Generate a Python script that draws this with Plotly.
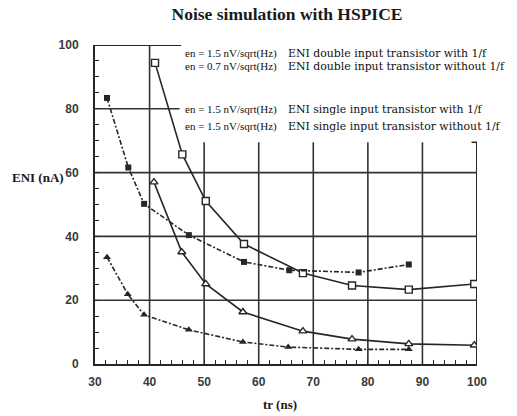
import plotly.graph_objects as go

# Data
tr_double_1f = [41.0, 46.0, 50.3, 57.3, 68.1, 77.1, 87.5, 99.5]
eni_double_1f = [94.4, 65.7, 51.1, 37.6, 28.5, 24.6, 23.3, 25.1]

tr_double = [32.2, 36.1, 39.0, 47.2, 57.3, 65.6, 78.3, 87.5]
eni_double = [83.4, 61.6, 50.2, 40.4, 32.0, 29.4, 28.7, 31.2]

tr_single_1f = [40.8, 45.9, 50.3, 57.1, 68.1, 77.1, 87.5, 99.5]
eni_single_1f = [57.0, 35.1, 25.1, 16.3, 10.3, 7.8, 6.3, 5.9]

tr_single = [32.2, 36.0, 39.0, 47.2, 57.1, 65.4, 78.3, 87.5]
eni_single = [33.5, 21.9, 15.4, 10.7, 6.9, 5.3, 4.6, 4.6]

legend_en = ["en = 1.5 nV/sqrt(Hz)", "en = 0.7 nV/sqrt(Hz)",
             "en = 1.5 nV/sqrt(Hz)", "en = 1.5 nV/sqrt(Hz)"]
legend_desc = ["ENI double input transistor with 1/f",
               "ENI double input transistor without 1/f",
               "ENI single input transistor with 1/f",
               "ENI single input transistor without 1/f"]

x_ticks = [30, 40, 50, 60, 70, 80, 90, 100]
y_ticks = [0, 20, 40, 60, 80, 100]

INK = "#262626"
fig = go.Figure()

fig.add_trace(go.Scatter(x=tr_double_1f, y=eni_double_1f, mode="lines+markers",
                         line=dict(color=INK, width=1.6),
                         marker=dict(symbol="square", size=7, color="white",
                                     line=dict(color=INK, width=1.4))))
fig.add_trace(go.Scatter(x=tr_double, y=eni_double, mode="lines+markers",
                         line=dict(color=INK, width=1.6, dash="5px,2px,2px,2px"),
                         marker=dict(symbol="square", size=6, color=INK)))
fig.add_trace(go.Scatter(x=tr_single_1f, y=eni_single_1f, mode="lines+markers",
                         line=dict(color=INK, width=1.6),
                         marker=dict(symbol="triangle-up", size=7, color="white",
                                     line=dict(color=INK, width=1.4))))
fig.add_trace(go.Scatter(x=tr_single, y=eni_single, mode="lines+markers",
                         line=dict(color=INK, width=1.6, dash="5px,2px,2px,2px"),
                         marker=dict(symbol="triangle-up", size=7, color=INK)))

# Grid lines and partial frame (legend block hides upper-right area)
GL = dict(color="#333333", width=1.6)
shapes = []
for yv in [20, 40, 60]:
    shapes.append(dict(type="line", xref="x", yref="y", x0=30, x1=100, y0=yv, y1=yv,
                       line=GL, layer="below"))
shapes.append(dict(type="line", xref="x", yref="y", x0=30, x1=45.5, y0=80, y1=80,
                   line=GL, layer="below"))
shapes.append(dict(type="line", xref="x", yref="y", x0=40, x1=40, y0=0, y1=100,
                   line=GL, layer="below"))
for xv in [50, 60, 70, 80, 90]:
    shapes.append(dict(type="line", xref="x", yref="y", x0=xv, x1=xv, y0=0, y1=69.5,
                       line=GL, layer="below"))
# top border (partial) and right border (partial)
shapes.append(dict(type="line", xref="x", yref="y", x0=30, x1=45.8, y0=100, y1=100,
                   line=dict(color=INK, width=2), layer="below"))
shapes.append(dict(type="line", xref="x", yref="y", x0=100, x1=100, y0=0, y1=69.5,
                   line=dict(color=INK, width=2), layer="below"))
shapes.append(dict(type="line", xref="x", yref="y", x0=99, x1=100, y0=69.5, y1=69.5,
                   line=dict(color=INK, width=1.5), layer="below"))

annotations = []
row_y = [53, 66, 109, 126]  # pixel rows
for i in range(4):
    py = (364 - row_y[i]) / 319.0
    annotations.append(dict(xref="paper", yref="paper", x=(183 - 95) / 382.0, y=py,
                            xanchor="left", yanchor="middle", showarrow=False,
                            text=legend_en[i],
                            font=dict(family="Liberation Serif", size=11, color="#111111")))
    annotations.append(dict(xref="paper", yref="paper", x=(286 - 95) / 382.0, y=py,
                            xanchor="left", yanchor="middle", showarrow=False,
                            text=legend_desc[i],
                            font=dict(family="DejaVu Serif", size=10.9, color="#111111")))

annotations.append(dict(xref="paper", yref="paper", x=(10 - 95) / 382.0,
                        y=(364 - 178) / 319.0, xanchor="left", yanchor="middle",
                        showarrow=False, text="<b>ENI (nA)</b>",
                        font=dict(family="Liberation Serif", size=13, color="#1a1a1a")))
annotations.append(dict(xref="paper", yref="paper", x=(280 - 95) / 382.0,
                        y=(364 - 404) / 319.0, xanchor="center", yanchor="middle",
                        showarrow=False, text="<b>tr (ns)</b>",
                        font=dict(family="Liberation Serif", size=13, color="#1a1a1a")))

fig.update_layout(
    width=517, height=416,
    margin=dict(l=95, r=40, t=45, b=52),
    paper_bgcolor="white", plot_bgcolor="white",
    showlegend=False,
    title=dict(text="<b>Noise simulation with HSPICE</b>", xref="container",
               x=287 / 517, xanchor="center", yref="container", y=1 - 14 / 416,
               yanchor="middle",
               font=dict(family="Liberation Serif", size=17.5, color="#1a1a1a")),
    shapes=shapes, annotations=annotations,
)
fig.update_xaxes(range=[30, 100], tickvals=x_ticks, showgrid=False, zeroline=False,
                 showline=True, linecolor=INK, linewidth=2, mirror=False,
                 ticks="inside", ticklen=5, tickcolor=INK, tickwidth=1.2,
                 minor=dict(dtick=2, ticks="inside", ticklen=4, tickcolor=INK,
                            tickwidth=1, showgrid=False),
                 ticklabelstandoff=6,
                 tickfont=dict(family="Liberation Sans", size=12, color="#3a3a3a",
                               weight="bold"))
fig.update_yaxes(range=[0, 100], tickvals=y_ticks, showgrid=False, zeroline=False,
                 showline=True, linecolor=INK, linewidth=2, mirror=False,
                 ticks="inside", ticklen=5, tickcolor=INK, tickwidth=1.2,
                 minor=dict(dtick=5, ticks="inside", ticklen=4, tickcolor=INK,
                            tickwidth=1, showgrid=False),
                 ticklabelstandoff=12,
                 tickfont=dict(family="Liberation Sans", size=12, color="#3a3a3a",
                               weight="bold"))

fig.write_html("out.html")
